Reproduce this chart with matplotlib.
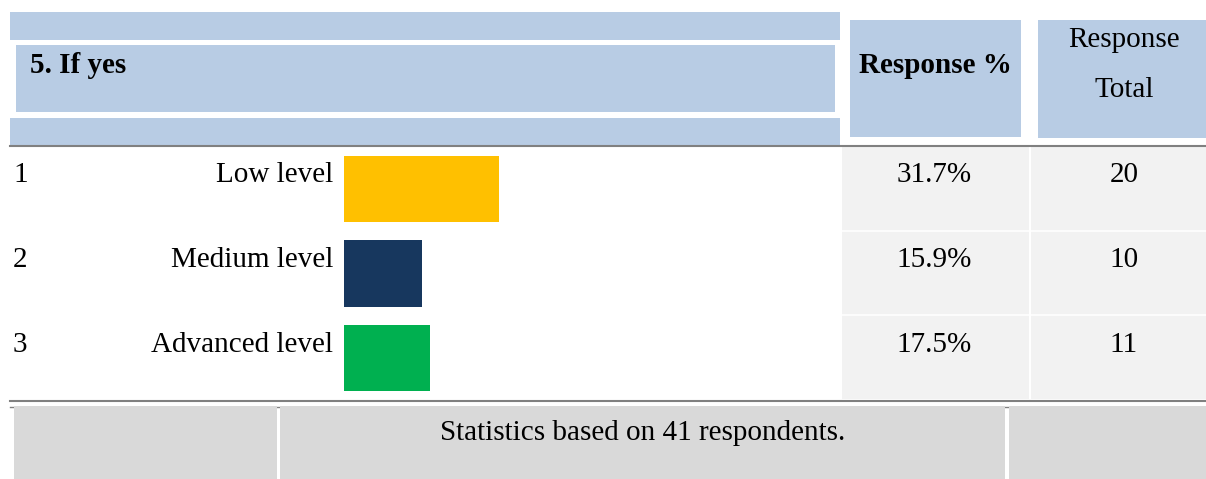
import matplotlib.pyplot as plt
from matplotlib.patches import Rectangle

# survey question 5 ("If yes") results
question = "5. If yes"
row_numbers = [1, 2, 3]
categories = ["Low level", "Medium level", "Advanced level"]
response_pct = [31.7, 15.9, 17.5]
response_total = [20, 10, 11]
n_respondents = 41

bar_colors = ["#ffc000", "#17375e", "#00b050"]
HEADER = "#b8cce4"
CELL = "#f2f2f2"
FOOT = "#d9d9d9"
RULE = "#808080"

plt.rcParams["font.family"] = ["Liberation Serif", "DejaVu Serif"]
FS = 21

W, H = 1206, 479
fig = plt.figure(figsize=(W / 100, H / 100), dpi=100)
ax = fig.add_axes([0, 0, 1, 1])
ax.set_xlim(0, W)
ax.set_ylim(H, 0)
ax.axis("off")


def box(x0, y0, x1, y1, color, z=1):
    ax.add_patch(Rectangle((x0, y0), x1 - x0, y1 - y0, facecolor=color,
                           edgecolor="none", zorder=z))


# header
box(10, 12, 840, 40, HEADER)
box(16, 45, 835, 112, HEADER)
box(10, 118, 840, 145, HEADER)
box(850, 20, 1021, 137, HEADER)
box(1038, 20, W, 138, HEADER)
ax.text(30, 72.5, question, fontsize=FS, fontweight="bold", va="baseline")
ax.text(935, 72.5, "Response %", fontsize=FS, fontweight="bold",
        ha="center", va="baseline")
ax.text(1124, 47, "Response", fontsize=FS, ha="center", va="baseline")
ax.text(1124, 97, "Total", fontsize=FS, ha="center", va="baseline")
ax.plot([10, W], [146, 146], color=RULE, lw=1.5, zorder=3)

# body rows
row_h = 84.5
top = 146
row_tops = [top + i * row_h for i in range(len(categories))]
box(842, 147, 1029, 399, CELL)
box(1031, 147, W, 399, CELL)
for rt in row_tops[1:]:
    ax.plot([842, W], [rt, rt], color="white", lw=1.2, zorder=2)

px_per_pct = 155 / 31.7
ax.barh([rt + 43 for rt in row_tops], [p * px_per_pct for p in response_pct],
        height=66.5, left=344, color=bar_colors, zorder=2)

for rt, num, cat, pct, tot in zip(row_tops, row_numbers, categories,
                                  response_pct, response_total):
    base = rt + 36.5
    ax.text(13, base, str(num), fontsize=FS, va="baseline")
    ax.text(333, base, cat, fontsize=FS, ha="right", va="baseline")
    ax.text(934, base, f"{pct:.1f}%", fontsize=FS, ha="center", va="baseline")
    ax.text(1124, base, str(tot), fontsize=FS, ha="center", va="baseline")

# footer
ax.plot([10, W], [401, 401], color=RULE, lw=1.5, zorder=3)
ax.plot([10, W], [406.6, 406.6], color=RULE, lw=1.0, zorder=1)
box(14, 406, 277, H, FOOT, z=2)
box(280, 406, 1005, H, FOOT, z=2)
box(1009, 406, W, H, FOOT, z=2)
ax.text(642.5, 439.5, f"Statistics based on {n_respondents} respondents.",
        fontsize=FS, ha="center", va="baseline", zorder=3)

fig.savefig("out.png", dpi=100)
